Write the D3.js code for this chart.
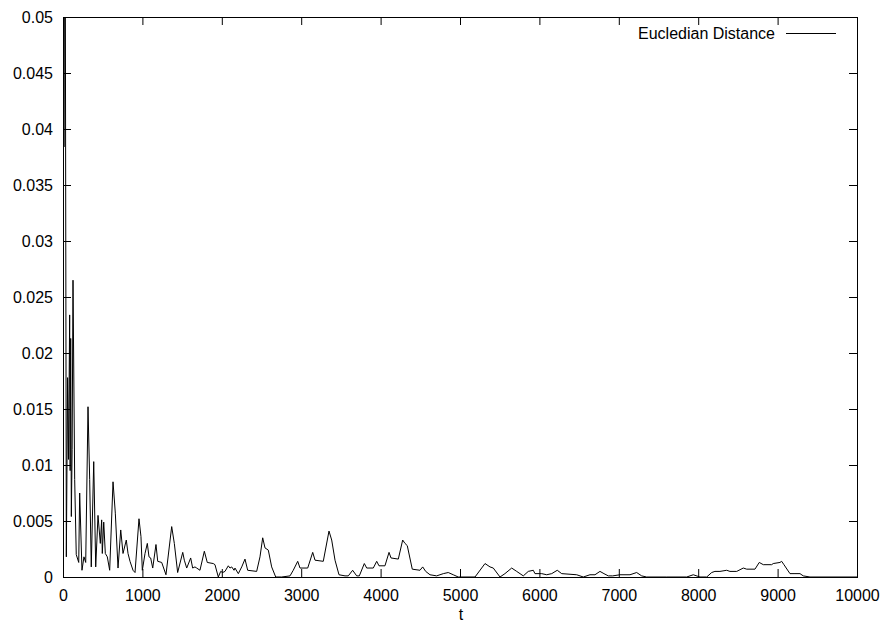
<!DOCTYPE html>
<html>
<head>
<meta charset="utf-8">
<script src="https://cdn.jsdelivr.net/npm/d3@7"></script>
<style>
  body { margin: 0; background: #fff; }
  text { font-family: "Liberation Sans", Arial, sans-serif; font-size: 16px; fill: #000; }
</style>
</head>
<body>
<div id="chart"></div>
<script>
const w = 882, h = 627;
const margin = {top: 17, right: 25, bottom: 50, left: 63};
const width = w - margin.left - margin.right,
      height = h - margin.top - margin.bottom;

// time steps
const tValues = [
  0, 12, 25, 42, 58, 70, 84, 90, 97, 105, 115, 126, 147, 167, 198, 210, 239, 264, 286,
  315, 336, 356, 387, 412, 441, 470, 487, 495, 513, 533, 558, 588, 630, 659, 693, 727,
  756, 797, 819, 844, 882, 907, 957, 982, 999, 1033, 1062, 1083, 1104, 1130, 1171, 1193,
  1243, 1297, 1369, 1402, 1444, 1508, 1528, 1558, 1608, 1633, 1662, 1684, 1725, 1780,
  1817, 1893, 1914, 1956, 1986, 2011, 2040, 2082, 2103, 2125, 2154, 2166, 2208, 2251,
  2292, 2326, 2439, 2481, 2515, 2544, 2586, 2628, 2679, 2754, 2859, 2900, 2956, 2985,
  3082, 3145, 3174, 3278, 3350, 3384, 3426, 3476, 3552, 3593, 3648, 3699, 3732, 3795,
  3825, 3908, 3951, 3980, 4055, 4106, 4131, 4223, 4278, 4307, 4336, 4399, 4496, 4530,
  4568, 4622, 4706, 4790, 4852, 4915, 4978, 5189, 5315, 5378, 5419, 5504, 5566, 5651,
  5714, 5797, 5860, 5923, 5944, 6029, 6092, 6155, 6225, 6281, 6470, 6553, 6637, 6700,
  6763, 6813, 6868, 6923, 7015, 7141, 7225, 7288, 7351, 7603, 7855, 7938, 8022, 8107,
  8170, 8211, 8274, 8359, 8400, 8485, 8568, 8611, 8715, 8769, 8820, 8925, 8945, 9030,
  9051, 9080, 9156, 9219, 9282, 9323, 9408, 10000
];

// euclidean distance at each step
const distValues = [
  0.075, 0.0384, 0.07, 0.0018, 0.0178, 0.0105, 0.0234, 0.0095, 0.0213, 0.0054, 0.0114, 0.0265, 0.0087, 0.0020, 0.0013, 0.0075, 0.0006, 0.0018, 0.0013,
  0.0152, 0.0087, 0.0009, 0.0103, 0.0009, 0.0055, 0.0030, 0.0051, 0.0021, 0.0049, 0.0021, 0.0018, 0.0006, 0.0085, 0.0057, 0.0008, 0.0042,
  0.0021, 0.0033, 0.0021, 0.0014, 0.0006, 0.0004, 0.0052, 0.0036, 0.0006, 0.0021, 0.0030, 0.0018, 0.0017, 0.0008, 0.0029, 0.0014,
  0.0013, 0.0002, 0.0045, 0.0030, 0.0004, 0.0022, 0.0015, 0.0008, 0.0017, 0.0008, 0.0009, 0.0008, 0.0006, 0.0023,
  0.0013, 0.0012, 0.0011, 0.0, 0.0005, 0.0004, 0.0005, 0.0010, 0.0008, 0.0009, 0.0006, 0.0008, 0.0003, 0.0009,
  0.0016, 0.0006, 0.0005, 0.0018, 0.0035, 0.0026, 0.0024, 0.0009, 0.0, 0.0, 0.0001, 0.0006, 0.0014, 0.0008,
  0.0008, 0.0022, 0.0015, 0.0014, 0.0041, 0.0033, 0.0015, 0.0002, 0.0001, 0.0001, 0.0006, 0.0001, 0.0001, 0.0012,
  0.0008, 0.0008, 0.0014, 0.0010, 0.0010, 0.0022, 0.0017, 0.0016, 0.0033, 0.0030, 0.0028, 0.0007, 0.0006, 0.0009,
  0.0005, 0.0002, 0.0001, 0.0003, 0.0004, 0.0002, 0.0, 0.0, 0.0012, 0.0009, 0.0008, 0.0, 0.0003, 0.0008,
  0.0005, 0.0001, 0.0005, 0.0006, 0.0003, 0.0003, 0.0002, 0.0003, 0.0006, 0.0003, 0.0002, 0.0, 0.0002, 0.0002,
  0.0005, 0.0003, 0.0001, 0.0001, 0.0002, 0.0002, 0.0004, 0.0001, 0.0, 0.0, 0.0, 0.0002, 0.0, 0.0,
  0.0004, 0.0005, 0.0005, 0.0006, 0.0005, 0.0005, 0.0008, 0.0007, 0.0007, 0.0013, 0.0011, 0.0011, 0.0012, 0.0013,
  0.0014, 0.0011, 0.0003, 0.0003, 0.0003, 0.0001, 0.0, 0.0
];

const xTicks = [0, 1000, 2000, 3000, 4000, 5000, 6000, 7000, 8000, 9000, 10000];
const yTicks = [0, 0.005, 0.01, 0.015, 0.02, 0.025, 0.03, 0.035, 0.04, 0.045, 0.05];
const seriesName = "Eucledian Distance";

const data = tValues.map((t, i) => ({t: t, v: distValues[i]}));

const svg = d3.select("#chart").append("svg")
    .attr("width", w)
    .attr("height", h);

const x = d3.scaleLinear().domain([0, 10000]).range([0, width]);
const y = d3.scaleLinear().domain([0, 0.05]).range([height, 0]);

const g = svg.append("g")
    .attr("transform", "translate(" + margin.left + "," + margin.top + ")");

svg.append("defs").append("clipPath").attr("id", "plotclip")
  .append("rect")
    .attr("x", 0).attr("y", 0)
    .attr("width", width).attr("height", height);

const tickLen = 8;
const fontStack = "Liberation Sans, Arial, sans-serif";

// x axis, ticks pointing in, mirrored on top
const xAxis = d3.axisBottom(x).tickValues(xTicks).tickSize(-tickLen).tickPadding(13).tickFormat(d3.format("d"));
const gx = g.append("g").attr("transform", "translate(0," + height + ")").call(xAxis);
gx.select(".domain").remove();
gx.selectAll("text").style("font-size", "16px").style("font-family", fontStack);

const gxTop = g.append("g").call(d3.axisTop(x).tickValues(xTicks).tickSize(-tickLen).tickFormat(""));
gxTop.select(".domain").remove();

const yFmt = d => d === 0 ? "0" : d3.format("")(+d.toFixed(3));
const yAxis = d3.axisLeft(y).tickValues(yTicks).tickSize(-tickLen).tickPadding(10).tickFormat(yFmt);
const gy = g.append("g").call(yAxis);
gy.select(".domain").remove();
gy.selectAll("text").style("font-size", "16px").style("font-family", fontStack);

const gyRight = g.append("g").attr("transform", "translate(" + width + ",0)")
    .call(d3.axisRight(y).tickValues(yTicks).tickSize(-tickLen).tickFormat(""));
gyRight.select(".domain").remove();

g.selectAll(".tick line").attr("stroke", "#000");

// border
g.append("rect")
    .attr("x", 0.5).attr("y", 0.5)
    .attr("width", width).attr("height", height)
    .attr("fill", "none")
    .attr("stroke", "#000")
    .attr("stroke-width", 1);

const line = d3.line()
    .x(d => x(d.t))
    .y(d => y(d.v));

g.append("path")
    .datum(data)
    .attr("clip-path", "url(#plotclip)")
    .attr("fill", "none")
    .attr("stroke", "#000")
    .attr("stroke-width", 1)
    .attr("d", line);

// legend
const legend = g.append("g").attr("transform", "translate(" + (width - 82) + ",16)");
legend.append("text")
    .attr("x", 0).attr("y", 0)
    .attr("dy", ".35em")
    .attr("text-anchor", "end")
    .text(seriesName);
legend.append("line")
    .attr("x1", 11).attr("x2", 61)
    .attr("y1", 0.5).attr("y2", 0.5)
    .attr("stroke", "#000");

// x label
g.append("text")
    .attr("x", width / 2 + 1)
    .attr("y", height + 43)
    .attr("text-anchor", "middle")
    .text("t");
</script>
</body>
</html>
